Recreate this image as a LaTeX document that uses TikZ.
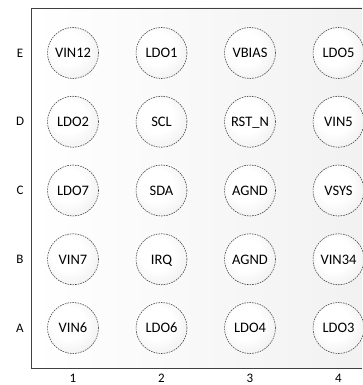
\documentclass[tikz,border=0pt]{standalone}
\usepackage{fontspec}
\setmainfont{Carlito}
\usetikzlibrary{shadings}
\pgfdeclareradialshading{ballshade}{\pgfpoint{-6bp}{6bp}}{color(0bp)=(white); color(16bp)=(white); color(50bp)=(black!13); color(70bp)=(black!13)}
\pgfdeclarehorizontalshading{bgshade}{100bp}{color(0bp)=(white); color(25bp)=(white); color(100bp)=(black!8)}
\begin{document}
\begin{tikzpicture}[x=1pt,y=-1pt,
  ball/.style={circle,minimum size=51pt,inner sep=0pt,draw=black!75,dash pattern=on 1.6pt off 1pt,line width=0.55pt,shading=ballshade,text height=9.5pt,text depth=0pt,font=\fontsize{14.5}{16}\selectfont},
  axlbl/.style={inner sep=0pt,font=\fontsize{13}{15}\selectfont}]
\useasboundingbox (0,0) rectangle (362,385);
\shade[shading=bgshade] (31,8) rectangle (362,368);
\draw[line width=0.9pt,black!75] (362,8) -- (31,8) -- (31,368) -- (362,368);
\foreach \name/\c/\r in {VIN12/1/1,LDO1/2/1,VBIAS/3/1,LDO5/4/1,
  LDO2/1/2,SCL/2/2,RST\_N/3/2,VIN5/4/2,
  LDO7/1/3,SDA/2/3,AGND/3/3,VSYS/4/3,
  VIN7/1/4,IRQ/2/4,AGND/3/4,VIN34/4/4,
  VIN6/1/5,LDO6/2/5,LDO4/3/5,LDO3/4/5}{
  \pgfmathsetmacro{\xx}{73+(\c-1)*88.5}
  \pgfmathsetmacro{\yy}{53+(\r-1)*68.75}
  \node[ball] (b\c\r) at (\xx,\yy) {\name};
}
\foreach \l/\r in {E/1,D/2,C/3,B/4,A/5}{
  \node[axlbl] (row\l) at (20,{53+(\r-1)*68.75}) {\l};
}
\foreach \c in {1,2,3,4}{
  \node[axlbl] (col\c) at ({73+(\c-1)*88.5},378.5) {\c};
}
\end{tikzpicture}
\end{document}
